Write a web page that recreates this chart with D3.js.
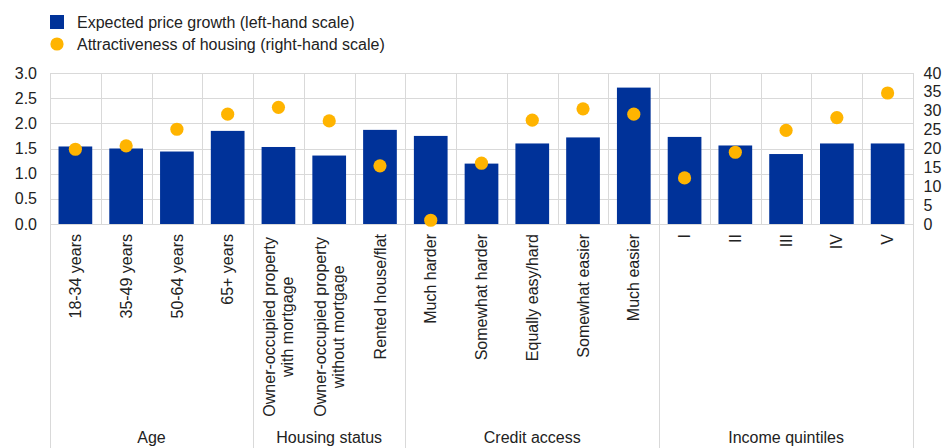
<!DOCTYPE html>
<html>
<head>
<meta charset="utf-8">
<script src="https://cdn.jsdelivr.net/npm/d3@7"></script>
<style>
  html, body { margin: 0; padding: 0; background: #fff; }
  svg { display: block; font-family: Arial, "Liberation Sans", sans-serif; }
</style>
</head>
<body>
<svg id="chart" width="942" height="448"></svg>
<script>
// Category labels (line breaks marked with \n)
const categories = [
  "18-34 years", "35-49 years", "50-64 years", "65+ years",
  "Owner-occupied property\nwith mortgage", "Owner-occupied property\nwithout mortgage", "Rented house/flat",
  "Much harder", "Somewhat harder", "Equally easy/hard", "Somewhat easier", "Much easier",
  "I", "II", "III", "IV", "V"
];
// Groups: name and number of categories in each
const groupNames = ["Age", "Housing status", "Credit access", "Income quintiles"];
const groupSizes = [4, 3, 5, 5];

// Expected price growth (left-hand scale)
const priceGrowth = [1.54, 1.50, 1.44, 1.85, 1.53, 1.36, 1.87, 1.75, 1.20, 1.60, 1.72, 2.71, 1.73, 1.56, 1.39, 1.60, 1.60];
// Attractiveness of housing (right-hand scale)
const attractiveness = [19.8, 20.7, 25.1, 29.1, 30.9, 27.3, 15.4, 1.0, 16.1, 27.5, 30.5, 29.1, 12.2, 19.0, 24.8, 28.2, 34.7];

const leftTicks = [0, 0.5, 1.0, 1.5, 2.0, 2.5, 3.0];
const rightTicks = [0, 5, 10, 15, 20, 25, 30, 35, 40];

const seriesNames = ["Expected price growth (left-hand scale)", "Attractiveness of housing (right-hand scale)"];

const BLUE = "#003299", GOLD = "#FFB400", GRID = "#d9d9d9", TEXT = "#222";
const FS = 16;

const svg = d3.select("#chart");
const plot = { left: 50, right: 913, top: 73, bottom: 224 };

const x = d3.scaleBand().domain(d3.range(categories.length)).range([plot.left, plot.right]).padding(0);
const yL = d3.scaleLinear().domain([0, 3]).range([plot.bottom, plot.top]);
const yR = d3.scaleLinear().domain([0, 40]).range([plot.bottom, plot.top]);
const bw = x.bandwidth();
const barFrac = 0.664;

// Horizontal gridlines
svg.append("g").selectAll("line").data(leftTicks).join("line")
  .attr("x1", plot.left).attr("x2", plot.right)
  .attr("y1", d => Math.round(yL(d)) + 0.5).attr("y2", d => Math.round(yL(d)) + 0.5)
  .attr("stroke", GRID).attr("stroke-width", 1);

// Vertical gridlines at category boundaries
const boundaries = d3.range(categories.length + 1).map(i => plot.left + i * bw);
svg.append("g").selectAll("line").data(boundaries).join("line")
  .attr("x1", d => Math.round(d) + 0.5).attr("x2", d => Math.round(d) + 0.5)
  .attr("y1", plot.top).attr("y2", plot.bottom)
  .attr("stroke", GRID).attr("stroke-width", 1);

// Group separators extending down through the label area
const groupEdges = [0];
groupSizes.forEach(s => groupEdges.push(groupEdges[groupEdges.length - 1] + s));
svg.append("g").selectAll("line").data(groupEdges).join("line")
  .attr("x1", d => Math.round(plot.left + d * bw) + 0.5).attr("x2", d => Math.round(plot.left + d * bw) + 0.5)
  .attr("y1", plot.bottom).attr("y2", 448)
  .attr("stroke", GRID).attr("stroke-width", 1);

// Bars
svg.append("g").selectAll("rect").data(priceGrowth).join("rect")
  .attr("x", (d, i) => x(i) + bw * (1 - barFrac) / 2)
  .attr("width", bw * barFrac)
  .attr("y", d => yL(d))
  .attr("height", d => yL(0) - yL(d))
  .attr("fill", BLUE);

// Dots
svg.append("g").selectAll("circle").data(attractiveness).join("circle")
  .attr("cx", (d, i) => x(i) + bw / 2)
  .attr("cy", d => yR(d))
  .attr("r", 6.6)
  .attr("fill", GOLD);

// Left axis labels
svg.append("g").selectAll("text").data(leftTicks).join("text")
  .attr("x", 37).attr("y", d => yL(d)).attr("dy", "0.35em")
  .attr("text-anchor", "end").attr("font-size", FS).attr("fill", TEXT)
  .text(d => d3.format(".1f")(d));

// Right axis labels
svg.append("g").selectAll("text").data(rightTicks).join("text")
  .attr("x", 923.5).attr("y", d => yR(d)).attr("dy", "0.35em")
  .attr("text-anchor", "start").attr("font-size", FS).attr("fill", TEXT)
  .text(d => d);

// Rotated category labels, anchored at the top, lines centred on each other
const labelTop = 234, lineH = 18;
categories.forEach((c, i) => {
  const lines = c.split("\n");
  const top = lines.length > 1 ? labelTop + 3 : labelTop;
  const g = svg.append("g")
    .attr("transform", `translate(${x(i) + bw / 2},${top}) rotate(-90)`);
  const texts = lines.map((ln, j) => g.append("text")
    .attr("font-size", FS).attr("fill", TEXT)
    .attr("y", (j - (lines.length - 1) / 2) * lineH)
    .attr("dy", "0.35em")
    .text(ln));
  const maxLen = d3.max(texts, t => t.node().getComputedTextLength());
  texts.forEach(t => t.attr("text-anchor", "middle").attr("x", -maxLen / 2));
});

// Group labels
groupNames.forEach((name, k) => {
  const x0 = plot.left + groupEdges[k] * bw, x1 = plot.left + groupEdges[k + 1] * bw;
  svg.append("text")
    .attr("x", (x0 + x1) / 2).attr("y", 443)
    .attr("text-anchor", "middle").attr("font-size", FS).attr("fill", TEXT)
    .text(name);
});

// Legend
const legend = svg.append("g");
legend.append("rect").attr("x", 50).attr("y", 15).attr("width", 14).attr("height", 14).attr("fill", BLUE);
legend.append("circle").attr("cx", 57).attr("cy", 44).attr("r", 6.6).attr("fill", GOLD);
legend.selectAll("text").data(seriesNames).join("text")
  .attr("x", 77).attr("y", (d, i) => 22 + i * 22).attr("dy", "0.35em")
  .attr("font-size", FS).attr("fill", TEXT)
  .text(d => d);
</script>
</body>
</html>
